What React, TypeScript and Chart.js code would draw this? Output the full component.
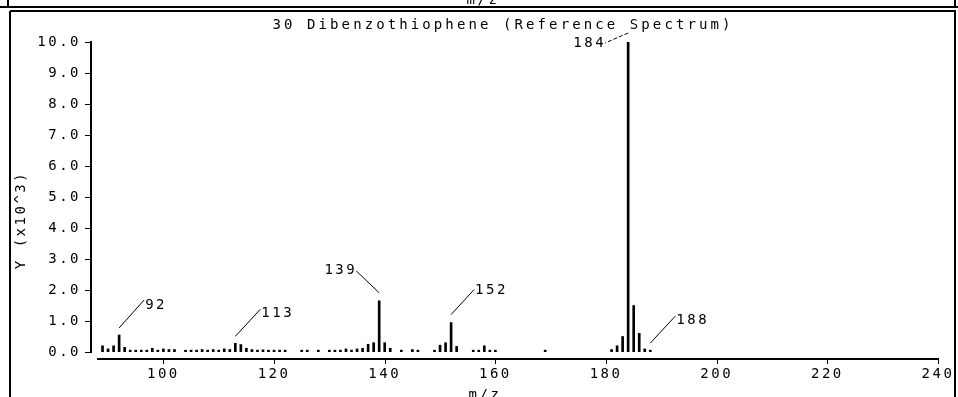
import React, { useEffect, useRef } from 'react';
import { Chart, registerables } from 'chart.js';

Chart.register(...registerables);

// ---- data (intensity in units of 10^3) ----
const mzValues = [
  89, 90, 91, 92, 93, 94, 95, 96, 97, 98, 99, 100, 101, 102,
  104, 105, 106, 107, 108, 109, 110, 111, 112, 113, 114, 115, 116, 117, 118, 119, 120, 121, 122,
  125, 126, 128, 130, 131, 132, 133, 134, 135, 136, 137, 138, 139, 140, 141, 143, 145, 146,
  149, 150, 151, 152, 153, 156, 157, 158, 159, 160, 169,
  181, 182, 183, 184, 185, 186, 187, 188,
];
const intensityValues = [
  0.2, 0.1, 0.2, 0.55, 0.15, 0.06, 0.06, 0.06, 0.06, 0.12, 0.06, 0.1, 0.08, 0.08,
  0.06, 0.06, 0.06, 0.08, 0.06, 0.08, 0.06, 0.1, 0.08, 0.28, 0.24, 0.12, 0.08, 0.06, 0.07, 0.06, 0.06, 0.06, 0.06,
  0.06, 0.06, 0.06, 0.06, 0.06, 0.06, 0.1, 0.06, 0.1, 0.12, 0.25, 0.3, 1.65, 0.3, 0.12, 0.06, 0.08, 0.06,
  0.06, 0.22, 0.3, 0.95, 0.18, 0.06, 0.06, 0.2, 0.06, 0.06, 0.06,
  0.08, 0.2, 0.5, 10.0, 1.5, 0.6, 0.1, 0.06,
];
const xTickValues = [100, 120, 140, 160, 180, 200, 220, 240];
const yTickValues = [0, 1, 2, 3, 4, 5, 6, 7, 8, 9, 10];
const xMin = 88;
const xMax = 240;
const yMin = 0;
const yMax = 10;
const peakLabels = [92, 113, 139, 152, 184, 188];
const chartTitle = '30 Dibenzothiophene (Reference Spectrum)';
const xAxisTitle = 'm/z';
const yAxisTitle = 'Y (x10^3)';

// ---- styles ----
const FONT_FAMILY = '"DejaVu Sans Mono", "Liberation Mono", monospace';
const FONT_SIZE = 14;
const LETTER_SPACING = '2.5px';
const TITLE_SPACING = '3.1px';
const W = 958;
const H = 397;

// leader line offsets relative to peak top: [fromDx, fromDy, toDx, toDy, labelDy, align, dashed]
const leaderStyles: Record<number, [number, number, number, number, number, 'left' | 'right', boolean]> = {
  92: [0, -7, 25, -35, 5, 'left', false],
  113: [0, -7, 25, -34, 4, 'left', false],
  139: [0, -8, -23, -30, 0, 'right', false],
  152: [0, -8, 23, -33, 1, 'left', false],
  184: [0, -9, -23, 1, 0, 'right', true],
  188: [0, -7, 25, -34, 4, 'left', false],
};

const decorPlugin = {
  id: 'decor',
  beforeLayout(chart: any) {
    (chart.ctx as any).letterSpacing = LETTER_SPACING;
  },
  beforeDraw(chart: any) {
    const ctx = chart.ctx;
    ctx.save();
    ctx.fillStyle = '#fff';
    ctx.fillRect(0, 0, W, H);
    ctx.restore();
    (ctx as any).letterSpacing = LETTER_SPACING;
  },
  afterDraw(chart: any) {
    const ctx: CanvasRenderingContext2D = chart.ctx;
    const xs = chart.scales.x;
    const ys = chart.scales.y;
    const area = chart.chartArea;
    const line = (x1: number, y1: number, x2: number, y2: number) => {
      ctx.beginPath();
      ctx.moveTo(x1, y1);
      ctx.lineTo(x2, y2);
      ctx.stroke();
    };
    ctx.save();
    (ctx as any).letterSpacing = LETTER_SPACING;
    ctx.strokeStyle = '#000';
    ctx.fillStyle = '#000';
    ctx.font = `${FONT_SIZE}px ${FONT_FAMILY}`;

    // frames
    ctx.lineWidth = 2;
    line(0, 7, W, 7);
    line(8, 0, 8, 7);
    line(955, 0, 955, 7);
    line(10, 11, 956, 11);
    line(10, 11, 10, H);
    line(955, 11, 955, H);

    // y axis
    const ax = Math.round(area.left - 6);
    const yTop = ys.getPixelForValue(yMax);
    const yBot = ys.getPixelForValue(yMin);
    ctx.lineWidth = 2;
    line(ax, yTop - 1, ax, yBot + 1);
    ctx.lineWidth = 1;
    yTickValues.forEach((v) => {
      const py = Math.round(ys.getPixelForValue(v)) + 0.5;
      line(ax - 6, py, ax, py);
    });

    // x axis
    const ay = Math.round(area.bottom + 7);
    ctx.lineWidth = 2;
    line(xs.getPixelForValue(xMin), ay, xs.getPixelForValue(xMax) + 1, ay);
    ctx.lineWidth = 1;
    xTickValues.forEach((v) => {
      const px = Math.round(xs.getPixelForValue(v)) + 0.5;
      line(px, ay, px, ay + 5);
    });

    // titles
    ctx.textAlign = 'center';
    ctx.textBaseline = 'middle';
    (ctx as any).letterSpacing = TITLE_SPACING;
    ctx.fillText(chartTitle, 503, 25);
    (ctx as any).letterSpacing = LETTER_SPACING;
    ctx.textBaseline = 'alphabetic';
    ctx.fillText(xAxisTitle, 483, 4);
    ctx.fillText(xAxisTitle, 485, 399);
    ctx.save();
    ctx.translate(21, 220);
    ctx.rotate(-Math.PI / 2);
    ctx.textBaseline = 'middle';
    ctx.fillText(yAxisTitle, 0, 0);
    ctx.restore();

    // peak labels
    ctx.lineWidth = 1;
    peakLabels.forEach((mz) => {
      const idx = mzValues.indexOf(mz);
      if (idx < 0) return;
      const px = xs.getPixelForValue(mz);
      const py = ys.getPixelForValue(intensityValues[idx]);
      const s = leaderStyles[mz];
      const x1 = px + s[0];
      const y1 = py + s[1];
      const x2 = px + s[2];
      const y2 = py + s[3];
      if (s[6]) ctx.setLineDash([4, 2]);
      line(x1, y1, x2, y2);
      ctx.setLineDash([]);
      ctx.textBaseline = 'middle';
      ctx.textAlign = s[5];
      ctx.fillText(String(mz), s[5] === 'left' ? x2 + 1 : x2 + 1, y2 + s[4]);
    });
    ctx.restore();
  },
};

export default function App() {
  const canvasRef = useRef<HTMLCanvasElement | null>(null);

  useEffect(() => {
    const canvas = canvasRef.current;
    if (!canvas) return;
    const font = { family: FONT_FAMILY, size: FONT_SIZE };
    const chart = new Chart(canvas, {
      type: 'bar',
      data: {
        datasets: [
          {
            data: mzValues.map((m, i) => ({ x: m, y: intensityValues[i] })),
            backgroundColor: '#000',
            borderWidth: 0,
            barThickness: 2,
          },
        ],
      },
      options: {
        animation: false,
        responsive: false,
        devicePixelRatio: 1,
        layout: { padding: { top: 42, right: 20, left: 0, bottom: 0 } },
        plugins: {
          legend: { display: false },
          tooltip: { enabled: false },
          title: { display: false },
        },
        scales: {
          x: {
            type: 'linear',
            min: xMin,
            max: xMax,
            offset: false,
            grid: { display: false },
            border: { display: false },
            afterBuildTicks: (s: any) => {
              s.ticks = xTickValues.map((v) => ({ value: v }));
            },
            afterFit: (s: any) => {
              s.height = 45;
              s.paddingLeft = 0;
              s.paddingRight = 0;
            },
            ticks: {
              padding: 6,
              color: '#000',
              font,
              maxRotation: 0,
              autoSkip: false,
              callback: (v: any) => String(v),
            },
          },
          y: {
            type: 'linear',
            min: yMin,
            max: yMax,
            grid: { display: false },
            border: { display: false },
            afterBuildTicks: (s: any) => {
              s.ticks = yTickValues.map((v) => ({ value: v }));
            },
            afterFit: (s: any) => {
              s.width = 97;
              s.paddingTop = 0;
              s.paddingBottom = 0;
            },
            ticks: {
              padding: 8,
              color: '#000',
              font,
              autoSkip: false,
              callback: (v: any) => Number(v).toFixed(1),
            },
          },
        },
      } as any,
      plugins: [decorPlugin as any],
    });
    return () => chart.destroy();
  }, []);

  return (
    <div style={{ position: 'absolute', left: 0, top: 0, width: W, height: H, background: '#fff' }}>
      <canvas ref={canvasRef} width={W} height={H} style={{ display: 'block', width: W, height: H }} />
    </div>
  );
}
